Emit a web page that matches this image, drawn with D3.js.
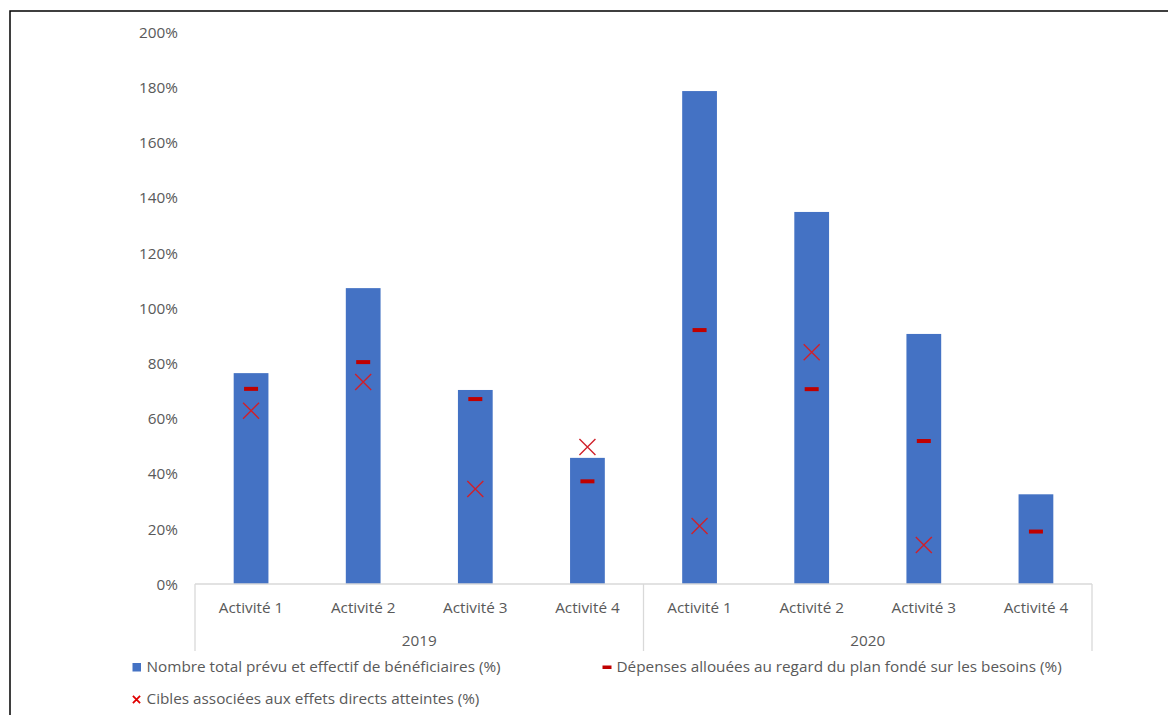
<!DOCTYPE html>
<html><head><meta charset="utf-8">
<script src="https://cdn.jsdelivr.net/npm/d3@7"></script>
<style>body{margin:0;background:#fff;}svg{display:block;font-family:"Open Sans",sans-serif;}</style>
</head><body><svg id="c" width="1168" height="715"></svg>
<script>
const years = ["2019", "2020"];
const activities = ["Activité 1", "Activité 2", "Activité 3", "Activité 4"];
const beneficiaires = [76.4, 107.2, 70.3, 45.7, 178.6, 134.8, 90.6, 32.5];
const depenses = [70.7, 80.4, 67.0, 37.2, 92.0, 70.6, 51.8, 19.0];
const cibles = [62.8, 73.2, 34.4, 49.6, 21.0, 84.0, 14.1, null];
const yTicks = [0, 20, 40, 60, 80, 100, 120, 140, 160, 180, 200];
const legendLabels = ["Nombre total prévu et effectif de bénéficiaires (%)", "Dépenses allouées au regard du plan fondé sur les besoins (%)", "Cibles associées aux effets directs atteintes (%)"];

const svg = d3.select("#c");
const barColor = "#4472C4", red = "#C00000", textColor = "#595959", axisColor = "#D9D9D9";
const fs = "15.3px";
// frame
svg.append("rect").attr("x", 10).attr("y", 11).attr("width", 1200).attr("height", 750)
  .attr("fill", "none").attr("stroke", "#000").attr("stroke-width", 1.5);

const keys = [];
years.forEach(y => activities.forEach(a => keys.push(y + "|" + a)));
const x = d3.scaleBand().domain(keys).range([195, 1092]).paddingInner(0.69).paddingOuter(0.345);
const y = d3.scaleLinear().domain([0, 200]).range([584, 32]);
const step = x.step();

// y tick labels
const yAxis = d3.axisLeft(y).tickValues(yTicks).tickFormat(d => d + "%").tickSize(0).tickPadding(0);
const ya = svg.append("g").attr("transform", "translate(178,0)").call(yAxis);
ya.select(".domain").remove();
ya.selectAll("text").attr("fill", textColor).attr("dy", "0.35em").style("font-size", fs).style("font-family", "Open Sans");

// bars
svg.append("g").selectAll("rect").data(beneficiaires).join("rect")
  .attr("x", (d, i) => x(keys[i])).attr("width", x.bandwidth())
  .attr("y", d => y(d)).attr("height", d => y(0) - y(d)).attr("fill", barColor);

// x axis line and group separators
const xa = svg.append("g");
xa.append("line").attr("x1", 195).attr("x2", 1092).attr("y1", y(0)).attr("y2", y(0)).attr("stroke", axisColor).attr("stroke-width", 1.3);
[0, 4, 8].forEach(i => {
  const xx = 195 + i * step;
  xa.append("line").attr("x1", xx).attr("x2", xx).attr("y1", y(0)).attr("y2", 651).attr("stroke", axisColor).attr("stroke-width", 1.3);
});
keys.forEach((k, i) => {
  xa.append("text").attr("x", x(k) + x.bandwidth() / 2).attr("y", 613).attr("text-anchor", "middle")
    .attr("fill", textColor).style("font-size", fs).text(k.split("|")[1]);
});
years.forEach((yr, j) => {
  xa.append("text").attr("x", 195 + (j * 4 + 2) * step).attr("y", 646).attr("text-anchor", "middle")
    .attr("fill", textColor).style("font-size", fs).text(yr);
});

// dash markers
svg.append("g").selectAll("rect").data(depenses).join("rect")
  .attr("x", (d, i) => x(keys[i]) + x.bandwidth() / 2 - 7).attr("y", d => y(d) - 2)
  .attr("width", 14).attr("height", 4).attr("fill", red);

// cross markers
const cg = svg.append("g");
cibles.forEach((d, i) => {
  if (d == null) return;
  const cx = x(keys[i]) + x.bandwidth() / 2, cy = y(d), s = 8;
  cg.append("path").attr("d", `M${cx - s},${cy - s}L${cx + s},${cy + s}M${cx - s},${cy + s}L${cx + s},${cy - s}`)
    .attr("stroke", "#D0202A").attr("stroke-width", 1.4).attr("fill", "none");
});

// legend
const lg = svg.append("g").style("font-size", fs);
lg.append("rect").attr("x", 132.5).attr("y", 663).attr("width", 8.5).attr("height", 8.5).attr("fill", barColor);
lg.append("text").attr("x", 146.5).attr("y", 672).attr("fill", textColor).text(legendLabels[0]);
lg.append("rect").attr("x", 602.5).attr("y", 665.5).attr("width", 9).attr("height", 3.5).attr("fill", red);
lg.append("text").attr("x", 616.5).attr("y", 672).attr("fill", textColor).text(legendLabels[1]);
const lx = 136.5, ly = 699.5, ls = 3.6;
lg.append("path").attr("d", `M${lx - ls},${ly - ls}L${lx + ls},${ly + ls}M${lx - ls},${ly + ls}L${lx + ls},${ly - ls}`)
  .attr("stroke", "#E00000").attr("stroke-width", 1.8);
lg.append("text").attr("x", 146.5).attr("y", 704).attr("fill", textColor).text(legendLabels[2]);
</script></body></html>
